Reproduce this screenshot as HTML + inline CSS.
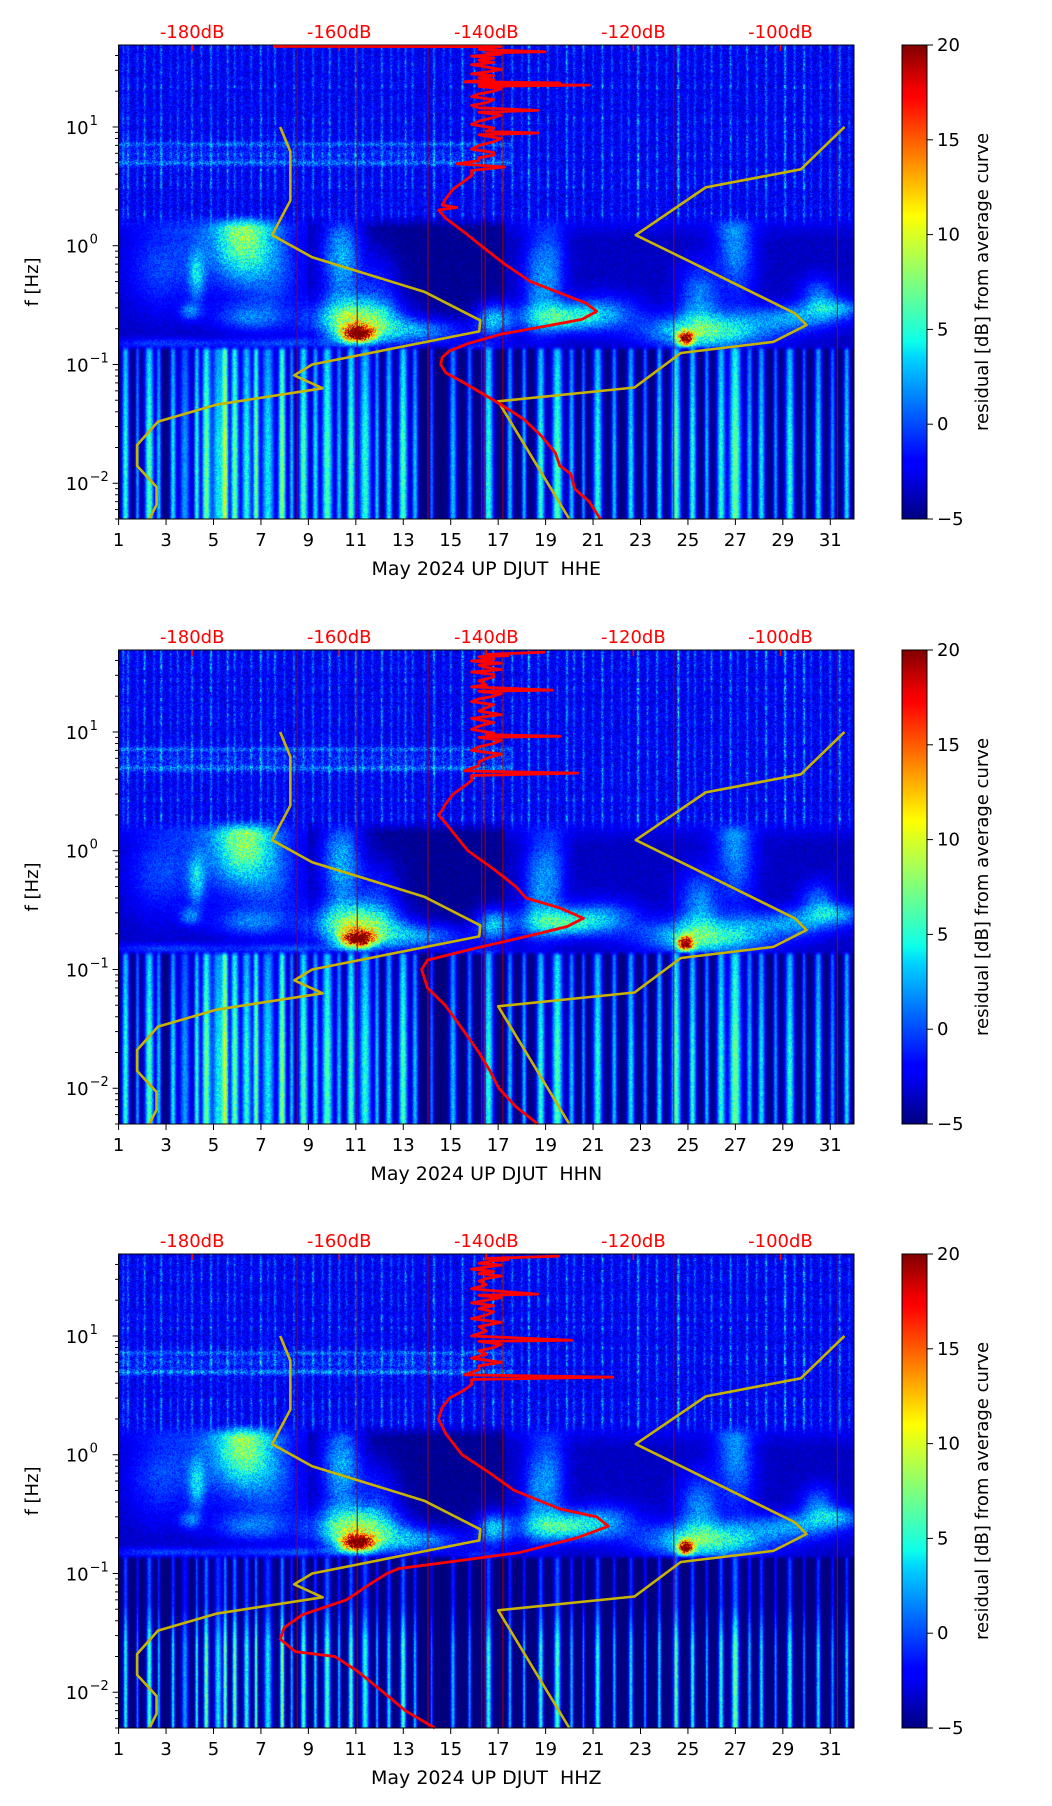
<!DOCTYPE html>
<html><head><meta charset="utf-8">
<style>
html,body{margin:0;padding:0;background:#fff;}
#root{position:relative;width:1052px;height:1806px;overflow:hidden;font-family:"DejaVu Sans","Liberation Sans",sans-serif;}
canvas{position:absolute;}
svg{position:absolute;left:0;top:0;}
</style></head>
<body>
<div id="root">
<canvas id="c0" width="736" height="474" style="left:118px;top:45px"></canvas>
<canvas id="c1" width="736" height="474" style="left:118px;top:650px"></canvas>
<canvas id="c2" width="736" height="474" style="left:118px;top:1254px"></canvas>
<svg id="ov" width="1052" height="1806">
<defs>
<linearGradient id="jet" x1="0" y1="1" x2="0" y2="0">
<stop offset="0" stop-color="#000080"/><stop offset="0.11" stop-color="#0000ff"/><stop offset="0.125" stop-color="#0000ff"/>
<stop offset="0.34" stop-color="#00d4ff"/><stop offset="0.375" stop-color="#0dffea"/><stop offset="0.64" stop-color="#ffff00"/>
<stop offset="0.66" stop-color="#ffeb00"/><stop offset="0.89" stop-color="#ff0000"/><stop offset="0.91" stop-color="#f00000"/><stop offset="1" stop-color="#800000"/>
</linearGradient>
</defs>
</svg>
</div>
<script>
// ---------- data ----------
const panelNames = ["HHE","HHN","HHZ"];
const panelTops = [45,650,1254];
const xTickDays = [1,3,5,7,9,11,13,15,17,19,21,23,25,27,29,31];
const dbTicks = [-180,-160,-140,-120,-100];
const yTickExps = [1,0,-1,-2];
const cbTicks = [20,15,10,5,0,-5];
const markerDays = [8.53,11.06,14.04,16.3,16.45,17.2,24.4,31.3];

// yellow reference curves (day, freq)
const yellowLeftDay = [7.81,8.24,8.24,7.47,9.16,13.88,16.25,16.2,9.16,8.4,9.6,5.15,2.66,1.78,1.78,2.6,2.6,2.3];
const yellowLeftFreq = [10,6.2,2.4,1.23,0.8,0.41,0.235,0.19,0.1,0.081,0.063,0.046,0.033,0.021,0.014,0.0093,0.0066,0.005];
const yellowRightDay = [31.6,29.76,25.75,22.8,25.0,29.5,30.0,28.6,24.7,22.75,17.0,20.0];
const yellowRightFreq = [10,4.4,3.1,1.23,0.75,0.27,0.215,0.155,0.125,0.064,0.049,0.005];

// red PSD curves (freq, dB) per channel
const redFreqHHE = [48,47.5,45,44,43,42,41,39.5,38,36.5,35,33.5,32,30.5,29,28,27,26,25,24,23.5,23,22.5,22,21,20,19,18,17,16,15.2,14.5,13.8,13.3,12.6,12,11.2,10.5,9.8,9.2,8.9,8.6,8,7.5,7,6.5,6.1,5.8,5.5,5.2,4.9,4.6,4.3,3.9,3.5,3,2.5,2.2,2.1,2.0,1.7,1.3,1.0,0.7,0.5,0.4,0.33,0.28,0.24,0.21,0.18,0.15,0.13,0.115,0.1,0.085,0.07,0.05,0.035,0.025,0.018,0.014,0.012,0.009,0.007,0.005];
const redDbHHE = [-169,-138,-141,-137,-132,-140,-138,-142,-139,-141,-139,-142,-140,-138,-140,-142,-139,-141,-139,-143,-130,-141,-126,-141,-138,-139,-141,-142,-139,-140,-142,-141,-133,-141,-138,-139,-141,-142,-139,-140,-133,-141,-138,-139,-141,-142,-139,-139,-141,-141,-144,-137.5,-142,-142,-143,-144.5,-145.5,-146,-144,-146.5,-145.5,-143,-140.7,-137.5,-134,-130,-126.5,-125,-127,-132,-138,-142.5,-145,-146,-146.2,-145.5,-143,-139,-135,-132.5,-130.6,-130,-128.5,-128,-126,-124.5];
const redFreqHHN = [47,45,44,43,41,39.5,38,36.5,35,33.5,32,30.5,29,27,25,24,22.5,22,21,20,19,18,17,16,15,14,13,12,11.2,10.5,9.8,9.5,9.2,9.0,8.5,8,7.5,7,6.5,6,5.6,5.2,4.7,4.5,4.3,3.9,3.5,3,2.5,2.2,2.0,1.7,1.3,1.0,0.7,0.5,0.4,0.33,0.27,0.23,0.2,0.15,0.12,0.1,0.07,0.05,0.03,0.02,0.014,0.01,0.007,0.005];
const redDbHHN = [-132,-140,-137,-141,-139,-142,-138,-141,-140,-138,-142,-139,-139,-141,-140,-142,-131,-141,-138,-139,-141,-142,-139,-140,-141,-138,-142,-139,-141,-142,-139,-140,-130,-141,-138,-139,-141,-142,-138,-140,-141,-141,-143,-127.6,-142,-142,-143,-144.5,-145.5,-146,-146.5,-145.5,-144,-142.5,-139,-136,-134.6,-130,-126.8,-129,-133,-141.7,-148,-148.8,-148,-145.6,-143,-141,-139.5,-138.3,-136,-133];
const redFreqHHZ = [47,45,44,43,41,39.5,38,36.5,35,33.5,32,30.5,29,27,25,24,22.5,22,21,20,19,18,17,16,15,14,13,12,11,10,9.2,9.0,8.5,8,7.5,7,6.5,6,5.6,5.2,4.7,4.5,4.3,3.9,3.5,3,2.5,2.0,1.5,1.0,0.7,0.5,0.35,0.3,0.25,0.2,0.15,0.13,0.11,0.1,0.08,0.06,0.045,0.035,0.028,0.022,0.02,0.015,0.01,0.007,0.005];
const redDbHHZ = [-130,-140,-137,-139,-141,-138,-140,-142,-139,-141,-138,-140,-141,-140,-142,-139,-133,-141,-138,-140,-142,-139,-141,-139,-140,-142,-138,-141,-140,-142,-128.4,-141,-138,-139,-141,-140,-142,-138,-141,-141,-143,-122.8,-142,-142,-143,-145,-146,-146.5,-145.5,-143.3,-139.5,-136.2,-130,-125,-123.4,-127.6,-135.5,-143,-151.9,-153.5,-156,-159,-165,-167.5,-168,-166,-160.6,-157.5,-154,-151,-147];
const redFreqs = [redFreqHHE,redFreqHHN,redFreqHHZ];
const redDbs = [redDbHHE,redDbHHN,redDbHHZ];

// heatmap features: blobs (day, log10 f, day-width, log-width, amplitude dB)
const blobDay = [6.3,4.3,4.0,6.5,10.4,11.0,11.1,13.5,16.8,19.7,19.3,21.5,24.9,25.8,25.5,27.2,29.5,31.2,30.5,3.0,8.5,5.0,2.6,7.6,18.6,26.8,12.0,16.3];
const blobLogF = [0.1,-0.25,-0.55,-0.6,-0.1,-0.62,-0.74,-0.72,-0.62,-0.6,-0.2,-0.55,-0.78,-0.72,-0.45,-0.1,-0.6,-0.52,-0.4,-0.82,-0.82,0.0,-0.2,-0.2,-0.3,0.1,-0.35,-0.9];
const blobDW = [0.8,0.25,0.3,1.0,0.6,1.2,0.45,1.5,0.5,1.2,0.4,1.0,0.22,1.8,0.6,0.5,1.4,0.8,0.5,2.0,2.0,1.6,0.9,0.8,0.4,0.5,0.6,0.8];
const blobLW = [0.25,0.15,0.05,0.08,0.3,0.12,0.045,0.08,0.1,0.08,0.3,0.1,0.04,0.1,0.2,0.3,0.08,0.06,0.1,0.03,0.03,0.3,0.25,0.3,0.3,0.25,0.2,0.06];
const blobAmp = [9,5,4,4,7,12,24,6,7,8,4,4,22,9,5,3,5,5,4,3,3,3,2.5,3,4,3,3,5];
// low-frequency vertical stripes (day, amplitude, width in days)
const stripeDays = [1.3,1.8,2.3,2.7,3.3,3.8,4.3,4.7,5.2,5.5,5.9,6.4,6.8,7.3,7.9,8.3,8.8,9.3,9.8,10.3,10.8,11.4,11.9,12.4,13.0,13.5,14.2,15.1,15.8,16.6,17.5,18.1,18.8,19.5,20.1,20.6,21.2,21.9,22.6,23.2,23.8,24.5,25.2,25.8,26.4,27.0,27.6,28.1,28.7,29.3,29.9,30.5,31.1,31.7];
const stripeAmp = [10,7,11,8,9,7,10,12,9,13,12,10,12,9,13,8,11,9,11,8,11,10,8,9,11,8,6,8,7,10,8,8,10,11,8,7,10,8,9,7,9,11,10,8,10,12,8,9,7,10,7,9,7,9];
const stripeWidth = [0.12,0.07,0.15,0.08,0.1,0.18,0.09,0.14,0.2,0.1,0.13,0.16,0.09,0.22,0.12,0.08,0.15,0.1,0.18,0.09,0.14,0.2,0.08,0.12,0.15,0.1,0.07,0.12,0.09,0.16,0.1,0.08,0.14,0.18,0.1,0.07,0.15,0.09,0.12,0.08,0.1,0.16,0.12,0.08,0.14,0.2,0.1,0.12,0.08,0.15,0.07,0.12,0.09,0.1];
// high-frequency streak days (upper band)
const streakDays = [1.2,1.4,1.8,2.1,2.5,2.8,3.2,3.5,3.8,4.1,4.5,4.9,5.2,5.6,5.9,6.2,6.6,7.0,7.3,7.6,8.0,8.4,8.8,9.2,9.6,9.9,10.3,10.6,11.0,11.3,11.7,12.1,12.5,12.8,13.1,13.4,13.9,14.3,14.7,15.0,15.5,16.0,16.4,16.8,17.2,17.6,18.0,18.3,18.7,19.1,19.5,19.9,20.2,20.6,21.0,21.4,21.8,22.2,22.5,22.9,23.3,23.7,24.1,24.6,25.0,25.3,25.7,26.0,26.4,26.8,27.1,27.5,27.9,28.3,28.7,29.1,29.5,29.9,30.2,30.6,31.0,31.4,31.8];
const streakAmp = [4,5,3,5,3,6,3,4,3,5,4,6,3,5,4,3,4,6,3,5,3,4,4,5,3,6,4,3,5,4,3,6,4,3,5,4,3,6,3,4,6,5,4,6,4,5,3,7,4,5,3,6,4,5,3,6,4,3,4,7,4,5,3,8,4,4,3,5,4,6,3,5,4,6,3,8,5,7,3,4,4,6,3];

// ---------- scales ----------
const L = 118.6, W = 735.4, H = 474;
const LTOP = Math.log10(49), LBOT = Math.log10(0.005);
function xDay(d){ return L + (d-1)/31*W; }
function yF(top,f){ return top + (LTOP-Math.log10(f))/(LTOP-LBOT)*H; }
function xDb(db){ return L + (db+190)/100*W; }

function jet(t){
  t=Math.max(0,Math.min(1,t));
  function pw(pts){ for(let i=1;i<pts.length;i++){ if(t<=pts[i][0]){const a=pts[i-1],b=pts[i];return a[1]+(b[1]-a[1])*(t-a[0])/(b[0]-a[0]);}} return pts[pts.length-1][1]; }
  return [pw([[0,0],[0.35,0],[0.66,1],[0.89,1],[1,0.5]]),pw([[0,0],[0.125,0],[0.375,1],[0.64,1],[0.91,0],[1,0]]),pw([[0,0.5],[0.11,1],[0.34,1],[0.65,0],[1,0]])];
}
const LUT=[];for(let i=0;i<256;i++){const c=jet(i/255);LUT.push([c[0]*255|0,c[1]*255|0,c[2]*255|0]);}
function hash(x,y,s){let h=(x*374761393+y*668265263+s*982451653)|0;h=(h^(h>>>13))*1274126177|0;h=h^(h>>>16);return (h>>>0)/4294967296;}

function drawHeat(idx){
  const cv=document.getElementById('c'+idx), ctx=cv.getContext('2d');
  const w=cv.width,h=cv.height,img=ctx.createImageData(w,h),D=img.data;
  const sharpF = idx===2 ? 0.6 : 1;
  const colStripe=new Float32Array(w), colStreak=new Float32Array(w), colDay=new Float32Array(w);
  for(let x=0;x<w;x++){
    const d=1+x/W*31; colDay[x]=d;
    let s=0; for(let i=0;i<stripeDays.length;i++){const q=(d-stripeDays[i])/(stripeWidth[i]*0.9*sharpF); if(q*q<20) s+=stripeAmp[i]*Math.exp(-q*q/2);}
    colStripe[x]=s;
    let k=0; for(let i=0;i<streakDays.length;i++){const q=(d-streakDays[i])/0.035; if(q*q<20) k+=streakAmp[i]*Math.exp(-q*q/2);}
    colStreak[x]=k;
  }
  for(let y=0;y<h;y++){
    const lf=LTOP-(y/H)*(LTOP-LBOT);
    const upW = Math.min(1,Math.max(0,(lf-0.15)/0.12));
    const lowW = Math.min(1,Math.max(0,(-0.84-lf)/0.04));
    const band = Math.exp(-Math.pow((lf-0.7)/0.025,2))*3+Math.exp(-Math.pow((lf-0.86)/0.02,2))*2.5+Math.exp(-Math.pow((lf-0.78)/0.05,2))*1.2;
    const lowProf = idx===2 ? Math.min(1,Math.max(0.5,(-0.9-lf)/0.7)) : Math.min(1,0.75+(-0.84-lf)*0.3);
    const rowN = hash(y>>2,17,idx);
    for(let x=0;x<w;x++){
      const d=colDay[x], n=hash(x,y,idx), n2=hash(y,x,idx+7);
      let v;
      let vu = -2.4 + (n-0.5)*3.2 + colStreak[x]*(0.2+0.8*n2)*(0.6+0.8*rowN) + (d<17.6?band:0)*(0.6+0.8*n);
      let vm = -4.5 + (n-0.5)*1.4;
      if(!(d>9 && d<17.3)) vm += 1.0 + (lf>0.05?1.0*Math.min(1,(lf-0.05)/0.15):0);
      for(let i=0;i<blobDay.length;i++){
        const a=(d-blobDay[i])/blobDW[i], b=(lf-blobLogF[i])/blobLW[i];
        const e=a*a+b*b; if(e<18) vm+=blobAmp[i]*Math.exp(-e/2)*(0.7+0.6*n2);
      }
      let vl = -5 + colStripe[x]*lowProf*(0.85+0.3*n2);
      v = upW*vu + (1-upW)*vm;
      v = lowW*vl + (1-lowW)*v;
      const t=(v+5)/25, c=LUT[Math.max(0,Math.min(255,(t*255)|0))], p=(y*w+x)*4;
      D[p]=c[0];D[p+1]=c[1];D[p+2]=c[2];D[p+3]=255;
    }
  }
  ctx.putImageData(img,0,0);
}

// ---------- overlay ----------
const NS="http://www.w3.org/2000/svg", svg=document.getElementById('ov');
function el(tag,attrs,parent){const e=document.createElementNS(NS,tag);for(const k in attrs)e.setAttribute(k,attrs[k]);(parent||svg).appendChild(e);return e;}

for(let p=0;p<3;p++){
  drawHeat(p);
  const top=panelTops[p], bot=top+H;
  const g=el('g',{});
  
  
  markerDays.forEach(d=>{
    const ln=el('line',{x1:xDay(d),x2:xDay(d),y1:top,y2:bot,stroke:'#a00000','stroke-width':1.2,opacity:0.85},g);
    
    
  });
  let pts=yellowLeftDay.map((d,i)=>xDay(d)+','+yF(top,yellowLeftFreq[i])).join(' ');
  const yl=el('polyline',{points:pts,fill:'none',stroke:'#c8b400','stroke-width':2.6,'stroke-linejoin':'round'},g);
  
  
  pts=yellowRightDay.map((d,i)=>xDay(d)+','+yF(top,yellowRightFreq[i])).join(' ');
  const yr=el('polyline',{points:pts,fill:'none',stroke:'#c8b400','stroke-width':2.6,'stroke-linejoin':'round'},g);
  
  
  const rf=redFreqs[p], rd=redDbs[p];
  pts=rf.map((f,i)=>xDb(rd[i])+','+Math.max(top+1,yF(top,f))).join(' ');
  const rc=el('polyline',{points:pts,fill:'none',stroke:'#ff0000','stroke-width':2.8,'stroke-linejoin':'round'},g);
  
  
  const fr=el('rect',{x:L,y:top,width:W,height:H,fill:'none',stroke:'#000','stroke-width':1},g);
  
  
  xTickDays.forEach(d=>{
    const x=xDay(d);
    el('line',{x1:x,x2:x,y1:bot,y2:bot+6,stroke:'#000','stroke-width':1},g);
    const t=el('text',{x:x,y:bot+27,'text-anchor':'middle','font-size':18,fill:'#000'},g);
    t.textContent=d;
    
    
  });
  const xl=el('text',{x:L+W/2,y:bot+56,'text-anchor':'middle','font-size':19,fill:'#000'},g);
  xl.textContent='May 2024 UP DJUT \u00a0'+panelNames[p];
  
  
  dbTicks.forEach(db=>{
    const x=xDb(db);
    el('line',{x1:x,x2:x,y1:top,y2:top+6,stroke:'#ff0000','stroke-width':1.5},g);
    const t=el('text',{x:x,y:top-7,'text-anchor':'middle','font-size':18,fill:'#ff0000'},g);
    t.textContent=db+'dB';
    
    
  });
  for(let e=-3;e<=1;e++){
    for(let m=1;m<10;m++){
      const f=m*Math.pow(10,e); if(f<0.005||f>49) continue;
      const y=yF(top,f);
      el('line',{x1:L-(m===1?6:3.5),x2:L,y1:y,y2:y,stroke:'#000','stroke-width':1},g);
    }
  }
  yTickExps.forEach(e=>{
    const y=yF(top,Math.pow(10,e));
    const t=el('text',{x:L-30,y:y+7,'text-anchor':'end','font-size':18,fill:'#000'},g);
    t.textContent='10';
    
    
    const s=el('text',{x:L-29,y:y-2,'text-anchor':'start','font-size':13,fill:'#000'},g);
    s.textContent=(e<0?'\u2212':'')+Math.abs(e);
    
    
  });
  const yl2=el('text',{x:0,y:0,'text-anchor':'middle','font-size':18,fill:'#000',transform:'translate(38,'+(top+H/2)+') rotate(-90)'},g);
  yl2.textContent='f [Hz]';
  
  
  const cb=el('rect',{x:902,y:top,width:25,height:H,fill:'url(#jet)',stroke:'#000','stroke-width':1},g);
  
  
  cbTicks.forEach(v=>{
    const y=top+(20-v)/25*H;
    el('line',{x1:927,x2:933,y1:y,y2:y,stroke:'#000','stroke-width':1},g);
    const t=el('text',{x:937,y:y+6,'font-size':18,fill:'#000'},g);
    t.textContent=v<0?'\u2212'+(-v):v;
    
    
  });
  const cl=el('text',{x:0,y:0,'text-anchor':'middle','font-size':18,fill:'#000',transform:'translate(988,'+(top+H/2)+') rotate(-90)'},g);
  cl.textContent='residual [dB] from average curve';
  
  
}
const tl=el('line',{x1:xDb(-169),x2:xDb(-138),y1:46.5,y2:46.5,stroke:'#ff0000','stroke-width':2.5});


</script>
</body></html>
